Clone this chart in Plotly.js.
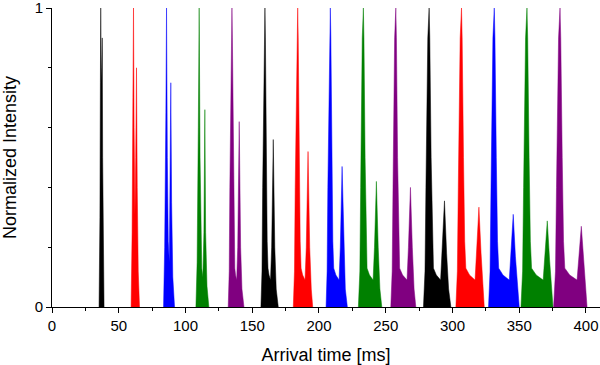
<!DOCTYPE html>
<html>
<head>
<meta charset="utf-8">
<script src="https://cdn.plot.ly/plotly-3.0.1.min.js"></script>
<style>html,body{margin:0;padding:0;background:#fff;}#chart{width:600px;height:365px;}</style>
</head>
<body>
<div id="chart"></div>
<script>
// Arrival time [ms] and normalized intensity, traced per packet
const x1 = [35.25, 35.9, 36.25, 36.5, 36.85, 37.1, 37.4, 37.65, 37.95, 38.4, 39.0];
const y1 = [0, 0.3, 0.75, 1, 0.8, 0.75, 0.8, 0.9, 0.5, 0.15, 0];
const x2 = [59.25, 60.0, 60.6, 61.05, 61.5, 61.8, 62.15, 62.7, 63.3, 63.85, 64.6, 65.55];
const y2 = [0, 0.25, 0.7, 1, 0.6, 0.4, 0.31, 0.5, 0.80, 0.4, 0.12, 0];
const x3 = [83.55, 84.4, 85.3, 85.8, 86.4, 87.1, 87.9, 88.45, 89.0, 89.6, 90.5, 91.8];
const y3 = [0, 0.2, 0.65, 1, 0.5, 0.22, 0.15, 0.35, 0.75, 0.35, 0.1, 0];
const x4 = [107.8, 108.7, 109.6, 110.25, 110.9, 111.5, 112.2, 113.0, 113.8, 114.5, 115.1, 116.1, 117.5];
const y4 = [0, 0.15, 0.6, 1, 0.5, 0.22, 0.13, 0.10, 0.25, 0.66, 0.25, 0.07, 0];
const x5 = [132, 132.75, 133.22, 134.14, 134.8, 135.13, 135.79, 136.38, 136.95, 137.5, 138.34, 139.13, 140.25, 141.31, 142.3, 143.8];
const y5 = [0, 0.12, 0.4, 0.9, 1, 0.9, 0.5, 0.22, 0.13, 0.107, 0.09, 0.2, 0.62, 0.2, 0.06, 0];
const x6 = [156.5, 157.3, 157.8, 158.79, 159.5, 159.86, 160.57, 161.2, 161.81, 162.56, 163.69, 164.54, 165.75, 166.89, 167.95, 169.5];
const y6 = [0, 0.12, 0.4, 0.9, 1, 0.9, 0.5, 0.22, 0.13, 0.107, 0.09, 0.2, 0.56, 0.2, 0.06, 0];
const x7 = [180.75, 181.63, 182.18, 183.27, 184.05, 184.44, 185.22, 185.92, 186.59, 187.77, 189.54, 190.47, 191.8, 193.05, 194.22, 195.3];
const y7 = [0, 0.12, 0.4, 0.9, 1, 0.9, 0.5, 0.22, 0.13, 0.107, 0.09, 0.2, 0.52, 0.2, 0.06, 0];
const x8 = [205.3, 206.08, 206.63, 207.72, 208.5, 208.89, 209.67, 210.37, 211.04, 212.64, 215.04, 215.97, 217.3, 218.55, 219.72, 221.25];
const y8 = [0, 0.12, 0.4, 0.9, 1, 0.9, 0.5, 0.22, 0.13, 0.107, 0.09, 0.2, 0.47, 0.2, 0.06, 0];
const x9 = [229.5, 230.61, 231.21, 232.4, 233.25, 233.68, 234.53, 235.29, 236.01, 237.82, 240.53, 241.56, 243, 244.36, 245.64, 247.05];
const y9 = [0, 0.12, 0.4, 0.9, 1, 0.9, 0.5, 0.22, 0.13, 0.107, 0.09, 0.2, 0.42, 0.2, 0.06, 0];
const x10 = [253.8, 254.82, 255.44, 256.67, 257.55, 257.99, 258.87, 259.66, 260.41, 262.63, 265.95, 267.0, 268.5, 269.91, 271.23, 272.55];
const y10 = [0, 0.12, 0.4, 0.9, 1, 0.9, 0.5, 0.22, 0.13, 0.107, 0.09, 0.2, 0.40, 0.2, 0.06, 0];
const x11 = [278.25, 279.4, 280.1, 281.5, 282.5, 283.0, 284.0, 284.9, 285.75, 287.89, 291.1, 292.3, 294, 295.6, 297.1, 298.8];
const y11 = [0, 0.12, 0.4, 0.9, 1, 0.9, 0.5, 0.22, 0.13, 0.107, 0.09, 0.2, 0.355, 0.18, 0.06, 0];
const x12 = [302.55, 303.65, 304.35, 305.75, 306.75, 307.25, 308.25, 309.15, 310.0, 312.76, 316.9, 318.1, 319.8, 321.4, 322.9, 323.8];
const y12 = [0, 0.12, 0.4, 0.9, 1, 0.9, 0.5, 0.22, 0.13, 0.107, 0.09, 0.2, 0.334, 0.18, 0.06, 0];
const x13 = [327, 328.14, 328.85, 330.28, 331.3, 331.81, 332.83, 333.75, 334.62, 337.79, 342.54, 343.77, 345.5, 347.13, 348.66, 350];
const y13 = [0, 0.12, 0.4, 0.9, 1, 0.9, 0.5, 0.22, 0.13, 0.107, 0.09, 0.18, 0.31, 0.17, 0.06, 0];
const x14 = [351.3, 352.51, 353.26, 354.74, 355.8, 356.33, 357.39, 358.34, 359.25, 362.72, 367.93, 369.2, 371, 372.7, 374.29, 375.3];
const y14 = [0, 0.12, 0.4, 0.9, 1, 0.9, 0.5, 0.22, 0.13, 0.107, 0.09, 0.17, 0.288, 0.16, 0.06, 0];
const x15 = [375.75, 377.14, 377.91, 379.45, 380.55, 381.1, 382.2, 383.19, 384.13, 387.8, 393.31, 394.63, 396.5, 398.26, 399.91, 400.8];
const y15 = [0, 0.12, 0.4, 0.9, 1, 0.9, 0.5, 0.22, 0.13, 0.107, 0.09, 0.17, 0.27, 0.16, 0.06, 0];

const xs = [x1, x2, x3, x4, x5, x6, x7, x8, x9, x10, x11, x12, x13, x14, x15];
const ys = [y1, y2, y3, y4, y5, y6, y7, y8, y9, y10, y11, y12, y13, y14, y15];
const colors = ['#000000', '#ff0000', '#0000ff', '#008000', '#800080'];

const xTickVals = [0, 50, 100, 150, 200, 250, 300, 350, 400];
const yTickVals = [0, 1];

const traces = xs.map((x, i) => ({
  x: x, y: ys[i], type: 'scatter', mode: 'lines',
  fill: 'tozeroy', fillcolor: colors[i % 5],
  line: {color: colors[i % 5], width: 0.5, shape: 'linear'},
  hoverinfo: 'skip', showlegend: false
}));

const font = 'Liberation Sans, Arial, sans-serif';
const layout = {
  width: 600, height: 365,
  margin: {l: 52, r: 0, t: 8, b: 58},
  paper_bgcolor: '#fff', plot_bgcolor: '#fff',
  showlegend: false,
  font: {family: font, size: 15, color: '#000'},
  xaxis: {
    range: [0, 410.5], tickmode: 'array', tickvals: xTickVals,
    ticks: 'outside', ticklen: 5, tickwidth: 1, tickcolor: '#000',
    showline: true, linecolor: '#000', linewidth: 1,
    showgrid: false, zeroline: false, ticklabeloverflow: 'allow',
    tickfont: {family: font, size: 15, color: '#000'},
    minor: {tickmode: 'linear', tick0: 0, dtick: 25, ticks: 'outside', ticklen: 3, tickcolor: '#000', showgrid: false},
    title: {text: 'Arrival time [ms]', font: {family: font, size: 18, color: '#000'}, standoff: 15}
  },
  yaxis: {
    range: [0, 1], tickmode: 'array', tickvals: yTickVals,
    ticks: 'outside', ticklen: 5, tickwidth: 1, tickcolor: '#000',
    showline: true, linecolor: '#000', linewidth: 1,
    showgrid: false, zeroline: false, ticklabeloverflow: 'allow',
    tickfont: {family: font, size: 15, color: '#000'},
    minor: {tickmode: 'linear', tick0: 0, dtick: 0.2, ticks: 'outside', ticklen: 3, tickcolor: '#000', showgrid: false},
    title: {text: 'Normalized Intensity', font: {family: font, size: 18, color: '#000'}, standoff: 14}
  }
};

Plotly.newPlot('chart', traces, layout, {displayModeBar: false, staticPlot: true});
</script>
</body>
</html>
